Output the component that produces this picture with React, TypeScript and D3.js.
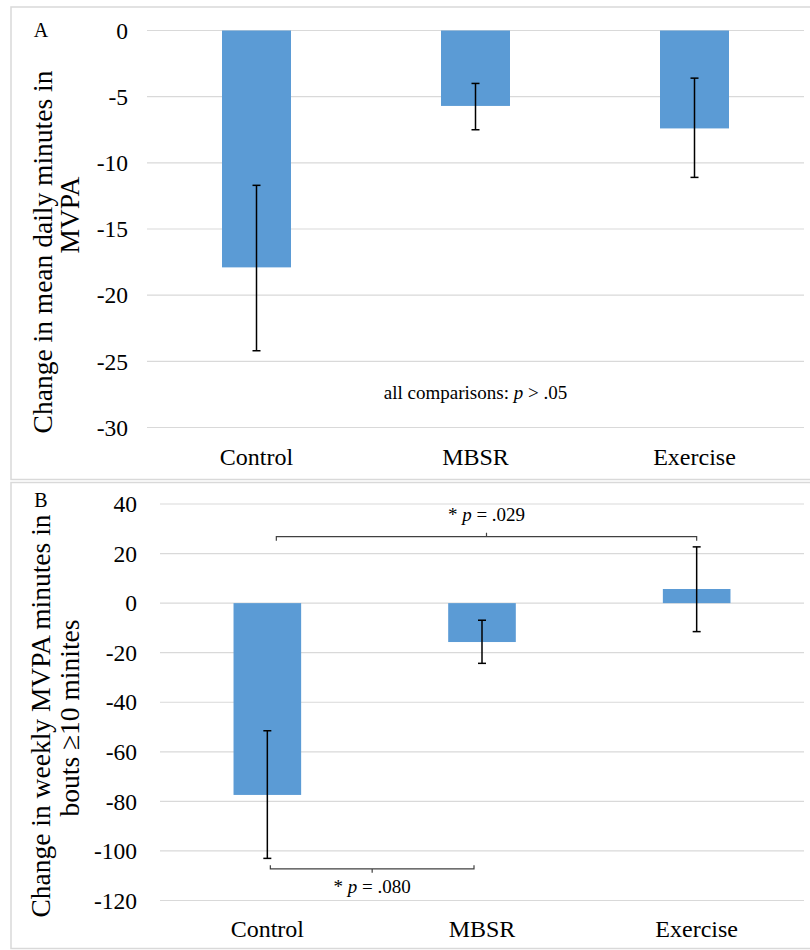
import React from "react";
import * as d3 from "d3";

const categories = ["Control", "MBSR", "Exercise"];

// Panel A: change in mean daily minutes in MVPA
const meanA = [-17.9, -5.7, -7.4];
const lowA = [-24.2, -7.5, -11.1];
const highA = [-11.7, -4.0, -3.6];
const ticksA = [0, -5, -10, -15, -20, -25, -30];

// Panel B: change in weekly MVPA minutes in bouts >=10 minutes
const meanB = [-77.4, -15.7, 5.7];
const lowB = [-103, -24.3, -11.5];
const highB = [-51.5, -6.9, 22.7];
const ticksB = [40, 20, 0, -20, -40, -60, -80, -100, -120];

// significance brackets (panel B)
const bracketFrom = ["Control", "Control"];
const bracketTo = ["Exercise", "MBSR"];
const bracketY = [26.8, -107.2];
const bracketP = [".029", ".080"];

const FONT = '"Liberation Serif", "DejaVu Serif", serif';
const BAR = "#5B9BD5";
const GRID = "#d9d9d9";

type PanelProps = {
  label: string;
  means: number[];
  lows: number[];
  highs: number[];
  ticks: number[];
  x0: number;
  x1: number;
  yTop: number;
  yBot: number;
  tickRight: number;
  catBaseline: number;
  letterY: number;
  children?: (x: d3.ScaleBand<string>, y: d3.ScaleLinear<number, number>) => React.ReactNode;
  title: React.ReactNode;
};

function Panel(p: PanelProps) {
  const x = d3.scaleBand<string>().domain(categories).range([p.x0, p.x1]).padding(0);
  const dom = d3.extent(p.ticks) as [number, number];
  const y = d3.scaleLinear().domain([dom[0], dom[1]]).range([p.yBot, p.yTop]);
  const bw = x.bandwidth() * 0.315;
  const cx = (c: string) => (x(c) as number) + x.bandwidth() / 2;
  return (
    <g>
      {p.ticks.map((t) => (
        <g key={t}>
          <line x1={p.x0} x2={p.x1} y1={y(t)} y2={y(t)} stroke={GRID} strokeWidth={1.2} />
          <text x={p.tickRight} y={y(t)} dy="0.35em" textAnchor="end" style={{ fontFamily: FONT, fontSize: 23.5 }} fill="#000">
            {t}
          </text>
        </g>
      ))}
      {categories.map((c, i) => {
        const v = p.means[i];
        const top = Math.min(y(v), y(0));
        const h = Math.abs(y(v) - y(0));
        return (
          <g key={c}>
            <rect x={cx(c) - bw / 2} y={top} width={bw} height={h} fill={BAR} />
            <line x1={cx(c)} x2={cx(c)} y1={y(p.lows[i])} y2={y(p.highs[i])} stroke="#000" strokeWidth={1.5} />
            <line x1={cx(c) - 4} x2={cx(c) + 4} y1={y(p.lows[i])} y2={y(p.lows[i])} stroke="#000" strokeWidth={1.5} />
            <line x1={cx(c) - 4} x2={cx(c) + 4} y1={y(p.highs[i])} y2={y(p.highs[i])} stroke="#000" strokeWidth={1.5} />
            <text x={cx(c)} y={p.catBaseline} textAnchor="middle" style={{ fontFamily: FONT, fontSize: 24 }} fill="#000">
              {c}
            </text>
          </g>
        );
      })}
      <text x={41} y={p.letterY} textAnchor="middle" style={{ fontFamily: FONT, fontSize: 20 }} fill="#000">
        {p.label}
      </text>
      {p.title}
      {p.children ? p.children(x, y) : null}
    </g>
  );
}

export default function App() {
  return (
    <svg
      width={810}
      height={950}
      style={{ position: "absolute", left: 0, top: 0, background: "#fff" }}
    >
      <rect x={0} y={0} width={810} height={950} fill="#fff" />
      {/* panel frames */}
      <rect x={11} y={7} width={810} height={472.5} fill="none" stroke={GRID} strokeWidth={1.5} />
      <rect x={11} y={482.5} width={810} height={466} fill="none" stroke={GRID} strokeWidth={1.5} />

      <Panel
        label="A"
        means={meanA}
        lows={lowA}
        highs={highA}
        ticks={ticksA}
        x0={147}
        x1={804}
        yTop={30.5}
        yBot={427.5}
        tickRight={128}
        catBaseline={465}
        letterY={37}
        title={
          <g style={{ fontFamily: FONT, fontSize: 27.5 }} fill="#000" textAnchor="middle">
            <text transform="translate(52,252) rotate(-90)">Change in mean daily minutes in</text>
            <text transform="translate(79,215) rotate(-90)">MVPA</text>
          </g>
        }
      >
        {(x, y) => (
          <text
            x={(x("MBSR") as number) + x.bandwidth() / 2}
            y={399}
            textAnchor="middle"
            style={{ fontFamily: FONT, fontSize: 19 }}
            fill="#000"
          >
            all comparisons: <tspan fontStyle="italic">p</tspan> &gt; .05
          </text>
        )}
      </Panel>

      <Panel
        label="B"
        means={meanB}
        lows={lowB}
        highs={highB}
        ticks={ticksB}
        x0={160}
        x1={804}
        yTop={504}
        yBot={900.5}
        tickRight={137}
        catBaseline={937}
        letterY={507}
        title={
          <g style={{ fontFamily: FONT, fontSize: 27.5 }} fill="#000" textAnchor="middle">
            <text transform="translate(50,716) rotate(-90)">Change in weekly MVPA minutes in</text>
            <text transform="translate(79,718) rotate(-90)">bouts ≥10 minites</text>
          </g>
        }
      >
        {(x, y) =>
          bracketY.map((bv, i) => {
            const cx = (c: string) => (x(c) as number) + x.bandwidth() / 2;
            const up = bv > 0;
            const xa = cx(bracketFrom[i]) + (up ? 9 : 3);
            const xb = cx(bracketTo[i]) + (up ? 0 : -8);
            const yy = y(bv);
            const end = up ? 4 : -3.5;
            const mid = (xa + xb) / 2;
            const tickLen = up ? -4 : 4;
            const ty = up ? yy - 16 : yy + 24;
            return (
              <g key={i}>
                <path
                  d={`M${xa},${yy + end}V${yy}H${xb}V${yy + end}M${mid},${yy}V${yy + tickLen}`}
                  fill="none"
                  stroke="#404040"
                  strokeWidth={1.2}
                />
                <text x={mid} y={ty} textAnchor="middle" style={{ fontFamily: FONT, fontSize: 19 }} fill="#000">
                  * <tspan fontStyle="italic">p</tspan> = {bracketP[i]}
                </text>
              </g>
            );
          })
        }
      </Panel>
    </svg>
  );
}
